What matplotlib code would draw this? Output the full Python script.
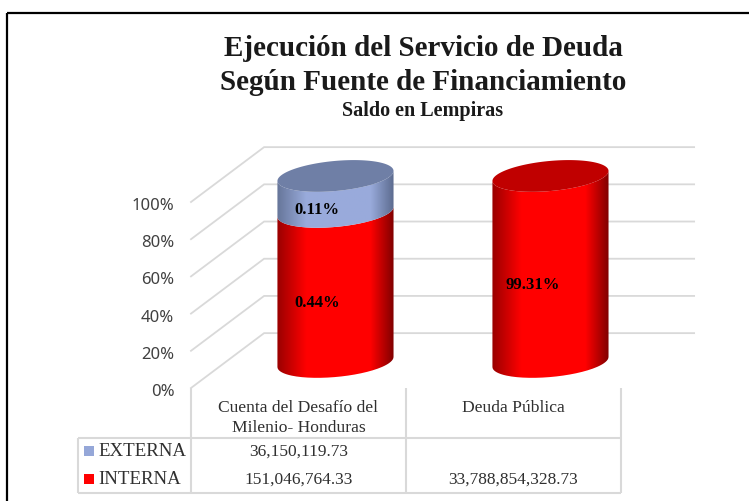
import numpy as np
import matplotlib
matplotlib.use("Agg")
import matplotlib.pyplot as plt
from matplotlib.lines import Line2D
from matplotlib.patches import Rectangle, PathPatch
from matplotlib.path import Path
from matplotlib.transforms import ScaledTranslation

categories = ["Cuenta del Desafío del\nMilenio- Honduras", "Deuda Pública"]
series_names = ["EXTERNA", "INTERNA"]
externa = [36150119.73, 0.0]
interna = [151046764.33, 33788854328.73]
externa_text = ["36,150,119.73", ""]
interna_text = ["151,046,764.33", "33,788,854,328.73"]
externa_labels = ["0.11%", ""]
interna_labels = ["0.44%", "99.31%"]
y_ticks = [0, 20, 40, 60, 80, 100]

W, H = 749, 501
SERIF = "Liberation Serif"
SANS = "Noto Sans"
GRID = "#d9d9d9"
TXT = "#303030"

fig = plt.figure(figsize=(W / 100, H / 100), dpi=100, facecolor="white")
Y0, Y100 = 388, 202
X0, X1 = 191, 621
ax = fig.add_axes([X0 / W, 1 - Y0 / H, (X1 - X0) / W, (Y0 - Y100) / H])
ax.set_facecolor("none")
for s in ax.spines.values():
    s.set_visible(False)

xlim = (-0.5, 1.5)
ylim = (0, 100)
depth_x, depth_y = 0.34, 29.5    # oblique 3-D projection of the back wall
mid_x, mid_y = 0.172, 14.0       # where the columns stand within that depth
half_w = 0.27
tilt, minor = 2.7, 8.1


def px(x, y):
    return x / W, 1 - y / H


# walls
for t in y_ticks:
    ax.plot([xlim[0], xlim[0] + depth_x, xlim[1] + depth_x],
            [t, t + depth_y, t + depth_y], color=GRID, lw=1.3,
            clip_on=False, zorder=1, solid_joinstyle="miter")


def rim(cx, cy, a):
    return cx + half_w * np.cos(a), cy + minor * np.sin(a) + tilt * np.cos(a)


def shade(base, dark_l, dark_r):
    stops = np.array([0, 0.25, 0.8, 1.0])
    out = []
    for c in range(3):
        out.append(np.interp(np.linspace(0, 1, 256), stops,
                             [dark_l[c], base[c], base[c], dark_r[c]]))
    return np.dstack(out).reshape(1, 256, 3)


RED = shade((1, 0, 0), (0.60, 0, 0), (0.50, 0, 0))
BLUE = shade((0.60, 0.67, 0.86), (0.40, 0.46, 0.60), (0.36, 0.42, 0.56))
TOP_RED = "#c00000"
TOP_BLUE = "#6f7fa6"


def segment(cx, v0, v1, grad):
    t = np.linspace(np.pi, 2 * np.pi, 80)
    xb, yb = rim(cx, mid_y + v0, t)
    xt, yt = rim(cx, mid_y + v1, t[::-1])
    verts = np.r_[np.c_[xb, yb], np.c_[xt, yt], [[xb[0], yb[0]]]]
    im = ax.imshow(grad, extent=(cx - half_w, cx + half_w, -30, 130),
                   aspect="auto", zorder=3, interpolation="bilinear")
    im.set_clip_box(fig.bbox)
    im.set_clip_path(PathPatch(Path(verts), transform=ax.transData))
    return im


def cap(cx, v, color):
    t = np.linspace(0, 2 * np.pi, 160)
    x, y = rim(cx, mid_y + v, t)
    ax.fill(x, y, color=color, lw=0, zorder=4, clip_on=False)


positions = np.arange(len(categories))
for i, cx0 in enumerate(positions):
    total = externa[i] + interna[i]
    p_int = 100 * interna[i] / total
    cx = cx0 + mid_x
    segment(cx, 0, p_int, RED)
    top_col = TOP_RED
    if externa[i] > 0:
        segment(cx, p_int, 100, BLUE)
        top_col = TOP_BLUE
    cap(cx, 100, top_col)

label_pos_int = [45.8, 55.5]
label_pos_ext = [95.8, None]
for i in positions:
    cx = i + mid_x - 0.085
    ax.text(cx, label_pos_int[i], interna_labels[i], ha="center", va="center",
            family=SERIF, weight="bold", fontsize=12, color="black", zorder=6, clip_on=False)
    if externa_labels[i]:
        ax.text(cx, label_pos_ext[i], externa_labels[i], ha="center", va="center",
                family=SERIF, weight="bold", fontsize=12, color="black", zorder=6, clip_on=False)

ax.set_xlim(*xlim)
ax.set_ylim(*ylim)
ax.set_xticks(positions, categories, family=SERIF, fontsize=12.6, color=TXT,
              linespacing=1.32)
ax.tick_params(axis="x", length=0, pad=8.5)
ax.set_yticks(y_ticks, [f"{t}%" for t in y_ticks], family=SANS, fontsize=12, color="#404040")
ax.tick_params(axis="y", length=0, pad=12)
for lab in ax.get_yticklabels():
    lab.set_transform(lab.get_transform() + ScaledTranslation(0, -2 / 100, fig.dpi_scale_trans))

# data table
tx, ty = 78, 438
bottom = 493
col = [191, 405.5, 621]


def fline(x0, y0, x1, y1, color=GRID, lw=1.5):
    a, b = px(x0, y0), px(x1, y1)
    fig.add_artist(Line2D([a[0], b[0]], [a[1], b[1]], transform=fig.transFigure,
                          color=color, lw=lw, solid_capstyle="butt"))


fline(tx, ty, col[2], ty)
fline(tx, bottom, col[2], bottom)
fline(tx, ty, tx, bottom)
for c in col:
    fline(c, Y0, c, bottom)

rows = [(452, externa_text, "#95a7d8", series_names[0]),
        (479.5, interna_text, "#ff0000", series_names[1])]
for y, vals, colr, nm in rows:
    x, yy = px(84, y + 4)
    fig.add_artist(Rectangle((x, yy), 10 / W, 10 / H, transform=fig.transFigure,
                             color=colr, lw=0))
    fig.text(*px(98, y), nm, family=SERIF, fontsize=13.6, color=TXT, va="center", ha="left")
    for i, v in enumerate(vals):
        fig.text(*px((col[i] + col[i + 1]) / 2, y), v, family=SERIF, fontsize=12.5,
                 color=TXT, va="center", ha="center")

# titles
fig.text(*px(423, 49), "Ejecución del Servicio de Deuda", family=SERIF, weight="bold",
         fontsize=21, color="#1a1a1a", ha="center", va="center")
fig.text(*px(423, 82), "Según Fuente de Financiamiento", family=SERIF, weight="bold",
         fontsize=21, color="#1a1a1a", ha="center", va="center")
fig.text(*px(423, 111), "Saldo en Lempiras", family=SERIF, weight="bold",
         fontsize=14.5, color="#1a1a1a", ha="center", va="center")

# outer frame
fline(7, 13, 749, 13, color="black", lw=1.6)
fline(7, 13, 7, 501, color="black", lw=1.6)

fig.savefig("out.png", dpi=100, facecolor="white")
